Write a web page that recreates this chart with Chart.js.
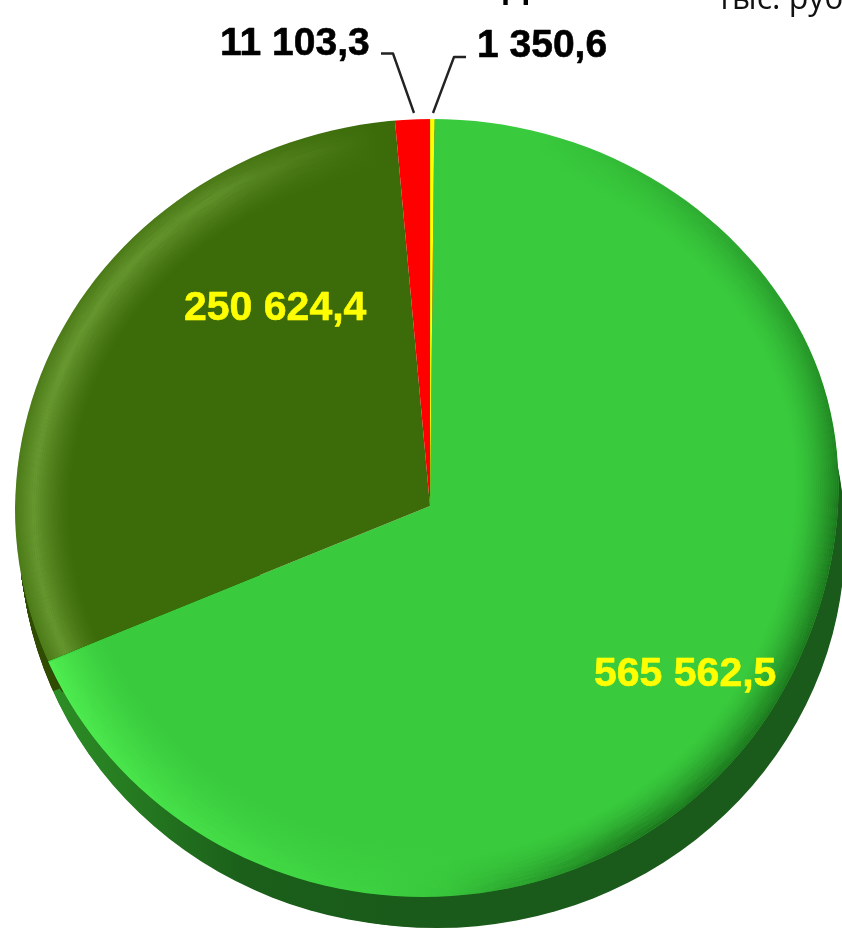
<!DOCTYPE html>
<html lang="ru"><head><meta charset="utf-8">
<style>html,body{margin:0;padding:0;background:#fff;overflow:hidden}#w{position:relative;width:842px;height:928px}</style>
<script src="https://cdn.jsdelivr.net/npm/chart.js@4/dist/chart.umd.min.js"></script>
</head><body><div id="w"><canvas id="c" width="842" height="928"></canvas></div>
<script>
const categories = ["A", "B", "C", "D"];
const values = [565562.5, 250624.4, 11103.3, 1350.6];
const valueLabels = ["565 562,5", "250 624,4", "11 103,3", "1 350,6"];
const sliceColors = ["#39cb3d", "#3c6b0a", "#ff0000", "#ffff00"];
const unitLabel = "тыс. руб.";
const titleFragment = "Д";

const UP = {x:432, y:505, rx:413, ry:386};
const LOW = {x:423, y:508, rx:408, ry:389};
const OFFS = [[5,30],[14,31]];
const C0 = {x:430, y:506};
const smooth=(a,b,v)=>{const t=Math.max(0,Math.min(1,(v-a)/(b-a)));return t*t*(3-2*t);};
function lowWeight(d){
  if(d<=180) return smooth(-28,28,d);
  if(d<250) return 1-smooth(170,250,d);
  if(d>=332) return smooth(332,388,d);
  return 0;
}
function surfacePath(k){
  const p=new Path2D();
  for(let i=0;i<=360;i+=2){
    const t=i*Math.PI/180, w=lowWeight(i);
    const X=(UP.x+UP.rx*Math.cos(t))*(1-w)+(LOW.x+LOW.rx*Math.cos(t))*w;
    const Y=(UP.y+UP.ry*Math.sin(t))*(1-w)+(LOW.y+LOW.ry*Math.sin(t))*w;
    const x=C0.x+(X-C0.x)*k, y=C0.y+(Y-C0.y)*k;
    if(i===0)p.moveTo(x,y);else p.lineTo(x,y);
  }
  p.closePath();
  return p;
}
function conic(ctx,stops){
  const g=ctx.createConicGradient(0,C0.x,C0.y);
  stops.forEach(([d,c])=>g.addColorStop(d/360,c));
  return g;
}
function ring(ctx,style,depthPx,profile){
  ctx.strokeStyle=style; ctx.lineWidth=2.1;
  for(let d=1;d<depthPx;d+=2){
    ctx.globalAlpha=profile(d);
    ctx.stroke(surfacePath(1-d/400));
  }
  ctx.globalAlpha=1;
}

const pie3d = {
  id:'pie3d',
  beforeDatasetsDraw(chart){
    const ctx = chart.ctx, arcs = chart.getDatasetMeta(0).data;
    const g = ctx.createLinearGradient(30,0,420,0);
    g.addColorStop(0,'#2f9327'); g.addColorStop(.55,'#1b5f1a'); g.addColorStop(1,'#1a5a1a');
    const sideCols = [g,'#2f4c02','#990000','#999900'];
    const sx = 417*1.1/arcs[0].outerRadius, sy = 386*1.1/arcs[0].outerRadius;
    chart.$pieScale=[sx,sy];
    ctx.save();
    ctx.beginPath(); ctx.rect(0,575,430,353); ctx.rect(430,0,412,928); ctx.clip();
    for(const [ox,oy] of OFFS){
      for(let s=1;s<=32;s++){
        const dx=ox*s/32, dy=oy*s/32;
        ctx.save();
        ctx.beginPath(); ctx.ellipse(LOW.x+dx,LOW.y+dy,LOW.rx,LOW.ry,0,0,Math.PI*2); ctx.clip();
        arcs.forEach((a,i)=>{
          ctx.save();
          ctx.translate(a.x+dx,a.y+dy); ctx.scale(sx,sy);
          ctx.beginPath(); ctx.moveTo(0,0);
          ctx.arc(0,0,a.outerRadius,a.startAngle,a.endAngle);
          ctx.closePath();
          ctx.restore();
          ctx.fillStyle = sideCols[i]; ctx.fill();
        });
        ctx.restore();
      }
    }
    ctx.restore();
    const a=arcs[0];
    ctx.save(); ctx.clip(surfacePath(1));
    ctx.translate(a.x,a.y); ctx.scale(sx,sy); ctx.translate(-a.x,-a.y);
  },
  afterDatasetsDraw(chart){
    const ctx = chart.ctx, a0 = chart.getDatasetMeta(0).data[0];
    ctx.restore();
    const [sx,sy]=chart.$pieScale;
    let b=Math.atan2(sy*Math.sin(a0.endAngle),sx*Math.cos(a0.endAngle))*180/Math.PI; if(b<0)b+=360;
    ctx.save(); ctx.clip(surfacePath(1));
    ring(ctx,conic(ctx,[[0,'rgba(10,70,10,.62)'],[60,'rgba(10,70,10,.62)'],[88,'rgba(10,70,10,.05)'],[100,'rgba(10,70,10,0)'],[285,'rgba(10,70,10,0)'],[310,'rgba(10,70,10,.22)'],[335,'rgba(10,70,10,.4)'],[360,'rgba(10,70,10,.62)']]),
      46,d=>Math.pow(1-d/46,1.6));
    ring(ctx,conic(ctx,[[0,'rgba(90,255,90,0)'],[82,'rgba(90,255,90,0)'],[105,'rgba(90,255,90,.16)'],[130,'rgba(90,255,90,.42)'],[b-.3,'rgba(90,255,90,.72)'],[b+.05,'rgba(90,255,90,0)'],[360,'rgba(90,255,90,0)']]),
      62,d=>Math.pow(1-d/62,1.5));
    ring(ctx,conic(ctx,[[0,'rgba(175,225,110,0)'],[b,'rgba(175,225,110,0)'],[b+.05,'rgba(175,225,110,.36)'],[200,'rgba(175,225,110,.38)'],[235,'rgba(175,225,110,.3)'],[262,'rgba(175,225,110,0)'],[360,'rgba(175,225,110,0)']]),
      54,d=>d<18?.35+.65*d/18:Math.pow(1-(d-18)/36,1.4));
    ctx.restore();
  },
  afterDraw(chart){
    const ctx=chart.ctx;
    ctx.save();
    ctx.textBaseline='alphabetic'; ctx.textAlign='left'; ctx.lineJoin='round';
    const txt=(s,x,y,c)=>{ctx.fillStyle=c;ctx.strokeStyle=c;ctx.lineWidth=.6;ctx.fillText(s,x,y);ctx.strokeText(s,x,y);};
    ctx.font='bold 41px "Liberation Sans"';
    txt(valueLabels[0],594,686,'#ffff00');
    txt(valueLabels[1],184,320,'#ffff00');
    ctx.font='bold 39px "Liberation Sans"';
    txt(valueLabels[2],220,55,'#000');
    txt(valueLabels[3],477,57,'#000');
    ctx.strokeStyle='#222'; ctx.lineWidth=2.4;
    ctx.beginPath(); ctx.moveTo(381,53.5); ctx.lineTo(393,53.5); ctx.lineTo(414,113); ctx.stroke();
    ctx.beginPath(); ctx.moveTo(466,57); ctx.lineTo(454,57); ctx.lineTo(433,113); ctx.stroke();
    ctx.fillStyle='#111'; ctx.font='32px "Open Sans"';
    ctx.fillText(unitLabel,717,9);
    ctx.fillStyle='#000'; ctx.font='bold 36px "Liberation Sans"';
    ctx.fillText(titleFragment,503,-3);
    ctx.restore();
  }
};

new Chart(document.getElementById('c'),{
  type:'pie',
  data:{labels:categories,datasets:[{data:values,backgroundColor:sliceColors,borderWidth:0}]},
  options:{
    responsive:false,animation:false,rotation:0.6,
    layout:{padding:{left:18,top:84,right:0,bottom:0}},
    plugins:{legend:{display:false},tooltip:{enabled:false},title:{display:false}}
  },
  plugins:[pie3d]
});
</script></body></html>
